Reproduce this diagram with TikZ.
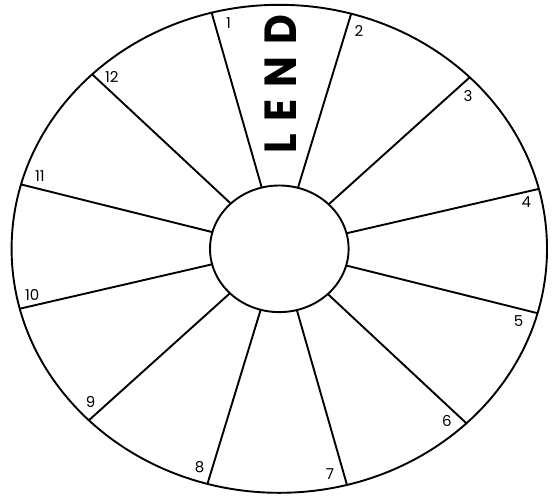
\documentclass[tikz,border=0pt]{standalone}
\usepackage{fontspec}
\setmainfont{Poppins}
\usetikzlibrary{shapes.geometric}
\tikzset{
  ring/.style={ellipse, draw, line width=1.9pt, inner sep=0pt, outer sep=0pt},
  spoke/.style={line width=1.9pt},
  num/.style={font=\fontsize{15}{15}\selectfont, inner sep=0pt},
  lendletter/.style={font=\fontsize{41}{41}\selectfont\bfseries, inner sep=0pt}
}
\begin{document}
\begin{tikzpicture}[x=1pt,y=-1pt]
  \useasboundingbox (0,0) rectangle (553,495);
  \fill[white] (0,0) rectangle (553,495);
  \node[ring, minimum width=535.4pt, minimum height=488pt] (outer) at (279.3,248.8) {};
  \node[ring, minimum width=138.6pt, minimum height=126.6pt] (inner) at (279.3,248.8) {};
  \foreach \a in {13.72,42.35,73.6,106.4,137.65,166.28,193.72,222.35,253.6,286.4,317.65,346.28}
    \draw[spoke] (inner.\a) -- (outer.\a);
  \foreach \k in {1,...,12} {
    \pgfmathsetmacro\t{101.6-30*(\k-1)}
    \node[num] (n\k) at ({279.3+252.3*cos(\t)}, {248.8-230*sin(\t)}) {\k};
  }
  \foreach \l/\yy in {L/144, E/110, N/71.7, D/30} {
    \begin{scope}[shift={(296.5,\yy)}, xscale=1.097]
      \node[lendletter, transform shape, rotate=90, anchor=base] (letter\l) at (0,0) {\l};
    \end{scope}
  }
\end{tikzpicture}
\end{document}
